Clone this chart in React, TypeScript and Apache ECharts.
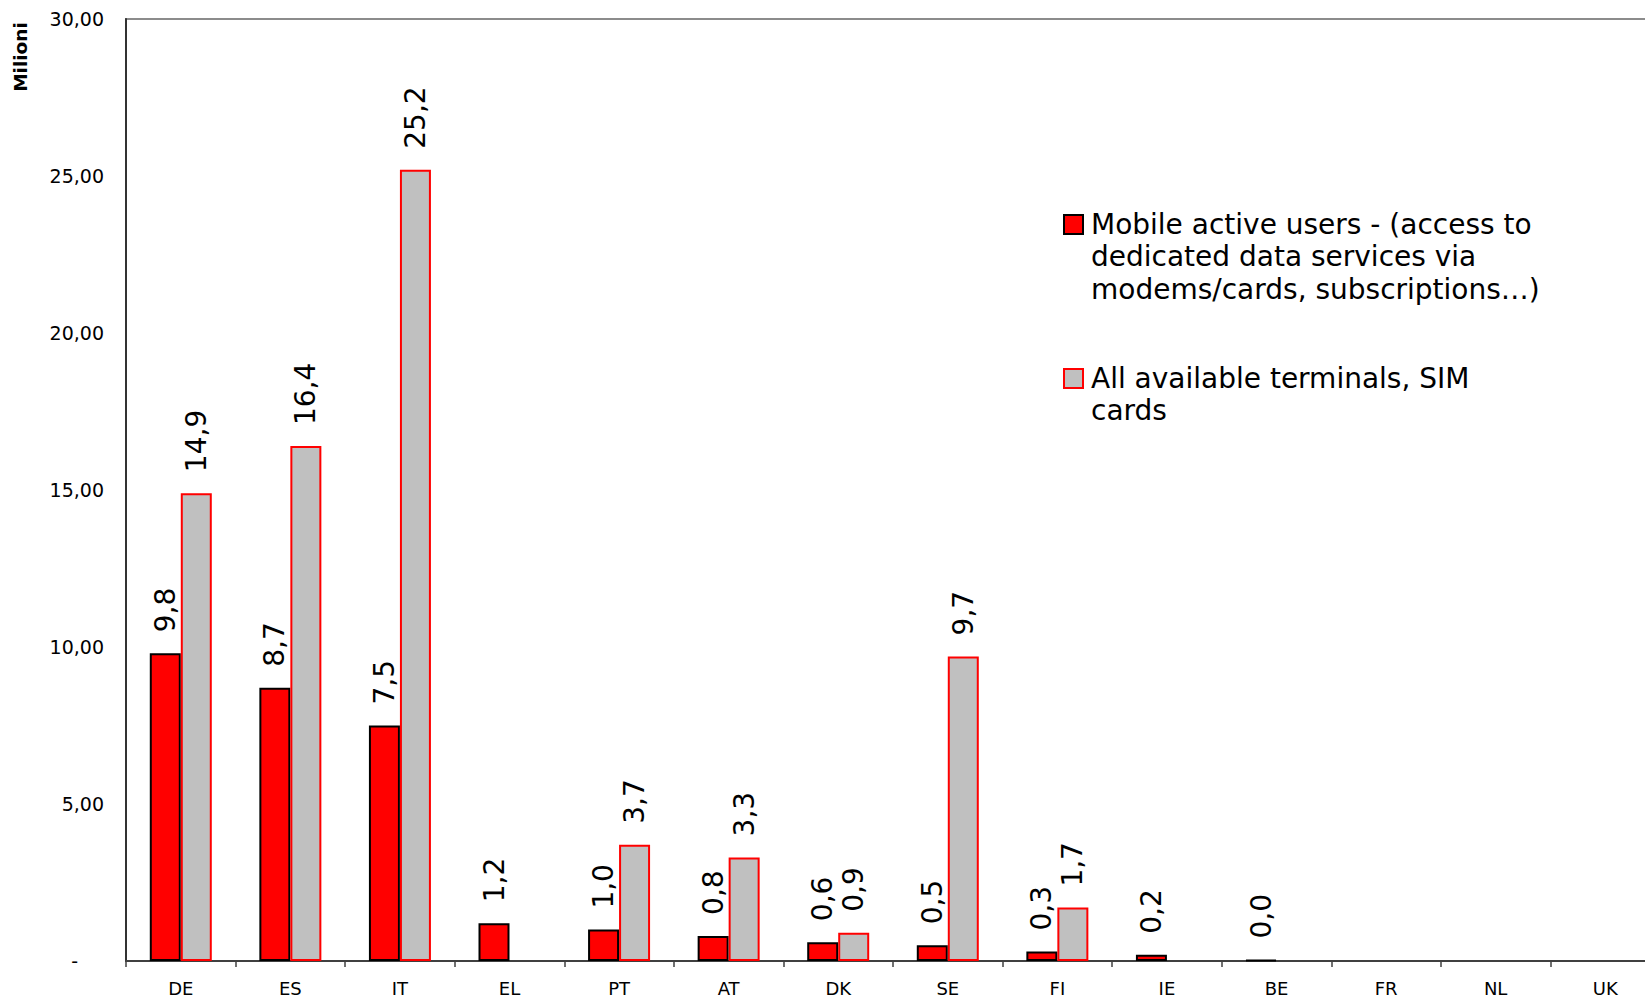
import React, { useEffect, useRef } from "react";
import * as echarts from "echarts";

const categories = ["DE", "ES", "IT", "EL", "PT", "AT", "DK", "SE", "FI", "IE", "BE", "FR", "NL", "UK"];
const mobileActiveUsers: (number | null)[] = [9.8, 8.7, 7.5, 1.2, 1.0, 0.8, 0.6, 0.5, 0.3, 0.2, 0.03, null, null, null];
const allTerminals: (number | null)[] = [14.9, 16.4, 25.2, null, 3.7, 3.3, 0.9, 9.7, 1.7, null, null, null, null, null];
const seriesNames = [
  "Mobile active users - (access to\ndedicated data services via\nmodems/cards, subscriptions…)",
  "All available terminals, SIM\ncards",
];
const yTicks = { min: 0, max: 30, interval: 5 };
const yAxisTitle = "Milioni";

const FONT = "'DejaVu Sans', Verdana, sans-serif";

const fmt1 = (v: number) => v.toFixed(1).replace(".", ",");

export default function App() {
  const ref = useRef<HTMLDivElement>(null);
  useEffect(() => {
    document.body.style.margin = "0";
    document.body.style.overflow = "hidden";
    const chart = echarts.init(ref.current!, null, { renderer: "svg" });
    const labelCfg = {
      show: true,
      position: "top",
      rotate: 90,
      align: "left",
      verticalAlign: "middle",
      distance: 21,
      fontSize: 28,
      fontFamily: FONT,
      color: "#000",
      formatter: (p: any) => (p.value == null ? "" : fmt1(p.value)),
    };
    chart.setOption({
      animation: false,
      backgroundColor: "#fff",
      grid: {
        left: 126,
        top: 19,
        width: 1534,
        bottom: 41,
        outerBoundsMode: "none",
        containLabel: false,
        show: true,
        borderColor: "#8c8c8c",
        borderWidth: 2,
        backgroundColor: "transparent",
      },
      xAxis: {
        type: "category",
        data: categories,
        axisLine: { show: true, lineStyle: { color: "#404040", width: 2 } },
        axisTick: { show: true, length: 6, interval: 0, lineStyle: { color: "#404040", width: 1.5 } },
        axisLabel: { interval: 0, fontSize: 18, fontFamily: FONT, color: "#000", margin: 18 },
        splitLine: { show: false },
      },
      yAxis: {
        type: "value",
        min: yTicks.min,
        max: yTicks.max,
        interval: yTicks.interval,
        axisLine: { show: true, lineStyle: { color: "#333", width: 2 } },
        axisTick: { show: false },
        splitLine: { show: false },
        axisLabel: {
          fontSize: 19,
          fontFamily: FONT,
          color: "#000",
          margin: 22,
          formatter: (v: number) => (v === 0 ? "{d|-}" : v.toFixed(2).replace(".", ",")),
          rich: { d: { fontSize: 19, fontFamily: FONT, color: "#000", padding: [0, 26, 0, 0] } },
        },
      },
      series: [
        {
          name: seriesNames[0],
          type: "bar",
          data: mobileActiveUsers,
          barWidth: 31,
          barGap: "0%",
          itemStyle: { color: "#FF0000", borderColor: "#000", borderWidth: 2 },
          label: labelCfg,
        },
        {
          name: seriesNames[1],
          type: "bar",
          data: allTerminals,
          barWidth: 31,
          barGap: "0%",
          itemStyle: { color: "#C0C0C0", borderColor: "#FF0000", borderWidth: 2 },
          label: labelCfg,
        },
      ],
      graphic: [
        {
          type: "text",
          x: 20,
          y: 57,
          rotation: Math.PI / 2,
          style: {
            text: yAxisTitle,
            fontSize: 18.5,
            fontWeight: "bold",
            fontFamily: FONT,
            fill: "#000",
            align: "center",
            verticalAlign: "middle",
          },
        },
        {
          type: "rect",
          shape: { x: 1064, y: 215, width: 19, height: 19 },
          style: { fill: "#FF0000", stroke: "#000", lineWidth: 2 },
        },
        {
          type: "text",
          x: 1091,
          y: 208,
          style: {
            text: seriesNames[0],
            fontSize: 28,
            lineHeight: 32.5,
            fontFamily: FONT,
            fill: "#000",
            align: "left",
            verticalAlign: "top",
          },
        },
        {
          type: "rect",
          shape: { x: 1064, y: 369, width: 19, height: 19 },
          style: { fill: "#C0C0C0", stroke: "#FF0000", lineWidth: 2 },
        },
        {
          type: "text",
          x: 1091,
          y: 362,
          style: {
            text: seriesNames[1],
            fontSize: 28,
            lineHeight: 32.5,
            fontFamily: FONT,
            fill: "#000",
            align: "left",
            verticalAlign: "top",
          },
        },
      ],
    });
    return () => chart.dispose();
  }, []);
  return (
    <div
      ref={ref}
      style={{ position: "absolute", left: 0, top: 0, width: 1645, height: 1002 }}
    />
  );
}
